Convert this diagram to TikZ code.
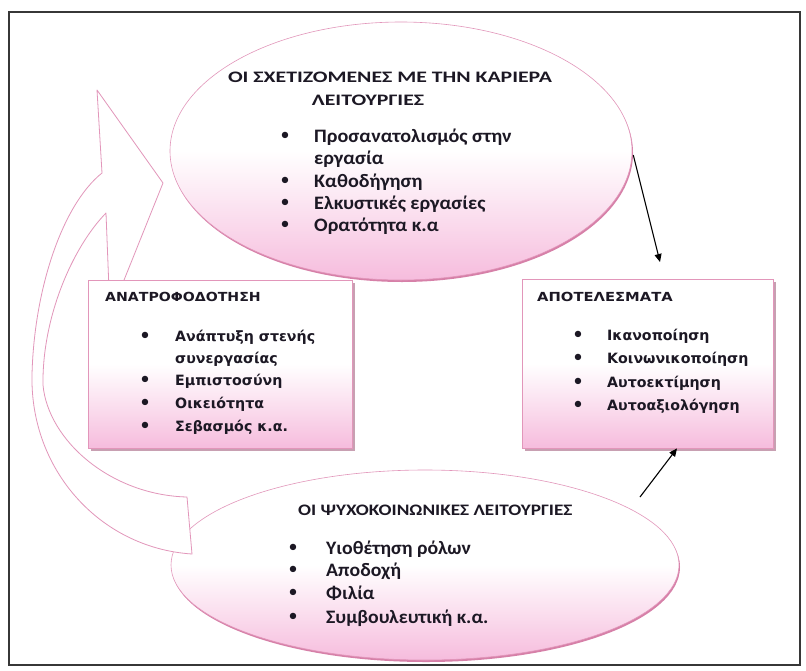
\documentclass[tikz,border=0pt]{standalone}
\usepackage{fontspec}
\usepackage{graphicx}
\setmainfont{Carlito}
\newfontfamily\vfont{DejaVu Sans}
\usetikzlibrary{arrows.meta,shapes.geometric,shadows}
\definecolor{pinkD}{RGB}{246,188,221}
\colorlet{pinkM}{pinkD!55!white}
\definecolor{pinkLine}{RGB}{226,150,186}
\definecolor{pinkEdge}{RGB}{214,128,168}
\definecolor{boxShadow}{RGB}{200,160,178}
\definecolor{txt}{RGB}{28,24,36}
\definecolor{frameC}{RGB}{55,55,55}
\pgfdeclareverticalshading{pinkfade}{100bp}{color(0bp)=(pinkD); color(25bp)=(pinkD); color(36bp)=(pinkM); color(50bp)=(white); color(100bp)=(white)}
\newcommand{\wx}[2]{\scalebox{#1}[1]{#2}}
\begin{document}
\begin{tikzpicture}[x=1pt,y=-1pt,
  ell/.style={ellipse, inner sep=0pt, shade, shading=pinkfade, draw=pinkLine, line width=0.6pt,
    drop shadow={shadow xshift=1pt, shadow yshift=-2pt, fill=pinkEdge, opacity=1}},
  bx/.style={rectangle, inner sep=0pt, shade, shading=pinkfade, draw=pinkLine, line width=0.8pt,
    drop shadow={shadow xshift=3pt, shadow yshift=-3pt, fill=boxShadow, opacity=1}},
  ttl/.style={font=\bfseries\fontsize{16}{18}\selectfont, text=txt, inner sep=0pt, anchor=base},
  itm/.style={font=\bfseries\fontsize{19}{21}\selectfont, text=txt, inner sep=0pt, anchor=base west},
  bttl/.style={font=\vfont\bfseries\fontsize{12.5}{14}\selectfont, text=txt, inner sep=0pt, anchor=base west},
  bitm/.style={font=\vfont\bfseries\fontsize{14.2}{16}\selectfont, text=txt, inner sep=0pt, anchor=base west},
  bul/.style={font=\fontsize{18}{20}\selectfont, text=txt, inner sep=0pt, anchor=center},
  conn/.style={-{Triangle[length=8pt,width=7pt]}, line width=1.1pt, draw=black},
  arrowshape/.style={draw=pinkLine, fill=white, line width=0.8pt, line join=round},
]
\useasboundingbox (0,0) rectangle (806,670);
\fill[white] (0,0) rectangle (806,670);
\draw[frameC, line width=1.6pt] (9,12) rectangle (800,665);

% bottom ellipse
\node (botE) [ell, minimum width=508pt, minimum height=190pt] at (425,565) {};

% curved arrow (feedback)
\path[arrowshape] (192,554) .. controls (100,548) and (30,470) .. (32,375)
   .. controls (34,290) and (62,205) .. (102,173)
   -- (97,90) -- (163,183) -- (110,315) -- (106,213)
   .. controls (72,248) and (42,318) .. (43,385)
   .. controls (48,440) and (110,495) .. (187,497) -- cycle;

% top ellipse
\node (topE) [ell, minimum width=462pt, minimum height=258pt] at (401,151) {};

% boxes
\node (lbox) [bx, minimum width=264pt, minimum height=168pt] at (220,364) {};
\node (rbox) [bx, minimum width=251pt, minimum height=169pt] at (647.5,363.5) {};

% connectors
\coordinate (a1e) at (660,262);
\coordinate (a2s) at (640,497);
\draw[conn] ([yshift=-4pt,xshift=1pt]topE.east) -- (a1e);
\draw[conn] (a2s) -- ([xshift=29.5pt]rbox.south);

% top ellipse text
\node[ttl] (t1) at (390,82) {\wx{1.36}{ΟΙ ΣΧΕΤΙΖΟΜΕΝΕΣ ΜΕ ΤΗΝ ΚΑΡΙΕΡΑ}};
\node[ttl] (t2) at (368,105) {\wx{1.36}{ΛΕΙΤΟΥΡΓΙΕΣ}};
\foreach \y/\n in {136/a,181/b,203/c,225/d}{\node[bul] (tb\n) at (285,\y) {•};}
\node[itm] (ti1) at (314,142) {\wx{1.06}{Προσανατολισμός στην}};
\node[itm] (ti2) at (314,164) {\wx{1.06}{εργασία}};
\node[itm] (ti3) at (314,187) {\wx{1.06}{Καθοδήγηση}};
\node[itm] (ti4) at (314,209) {\wx{1.06}{Ελκυστικές εργασίες}};
\node[itm] (ti5) at (314,231) {\wx{1.06}{Ορατότητα κ.α}};

% left box text
\node[bttl] (lt) at (105,301) {\wx{1.13}{ΑΝΑΤΡΟΦΟΔΟΤΗΣΗ}};
\foreach \y/\n in {336/a,380/b,403/c,426/d}{\node[bul] (lb\n) at (145,\y) {•};}
\node[bitm] (li1) at (175,341) {Ανάπτυξη στενής};
\node[bitm] (li2) at (175,363) {συνεργασίας};
\node[bitm] (li3) at (175,385) {Εμπιστοσύνη};
\node[bitm] (li4) at (175,408) {Οικειότητα};
\node[bitm] (li5) at (175,431) {Σεβασμός κ.α.};

% right box text
\node[bttl] (rt) at (537,301) {\wx{1.18}{ΑΠΟΤΕΛΕΣΜΑΤΑ}};
\foreach \y/\n in {335/a,358/b,382/c,405/d}{\node[bul] (rb\n) at (578,\y) {•};}
\node[bitm] (ri1) at (607,340) {Ικανοποίηση};
\node[bitm] (ri2) at (607,363) {Κοινωνικοποίηση};
\node[bitm] (ri3) at (607,387) {Αυτοεκτίμηση};
\node[bitm] (ri4) at (607,410) {Αυτοαξιολόγηση};

% bottom ellipse text
\node[ttl, anchor=base west] (bt) at (298,515) {\wx{1.2}{ΟΙ ΨΥΧΟΚΟΙΝΩΝΙΚΕΣ ΛΕΙΤΟΥΡΓΙΕΣ}};
\foreach \y/\n in {548/a,570/b,593/c,617/d}{\node[bul] (bb\n) at (293,\y) {•};}
\node[itm] (bi1) at (326,554) {\wx{1.04}{Υιοθέτηση ρόλων}};
\node[itm] (bi2) at (326,576) {\wx{1.04}{Αποδοχή}};
\node[itm] (bi3) at (326,599) {\wx{1.04}{Φιλία}};
\node[itm] (bi4) at (326,623) {\wx{1.04}{Συμβουλευτική κ.α.}};
\end{tikzpicture}
\end{document}
